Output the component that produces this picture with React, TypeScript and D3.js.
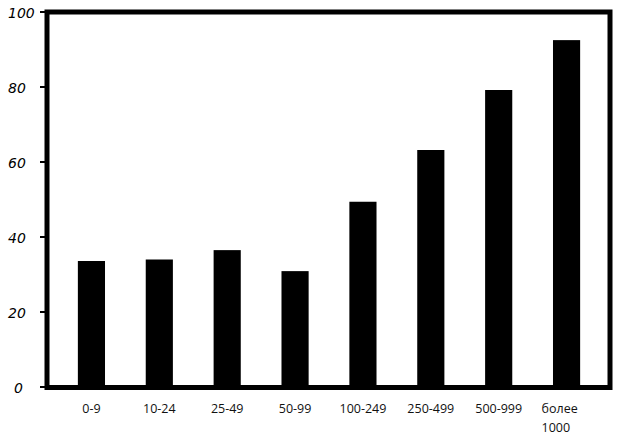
import React from "react";
import * as d3 from "d3";

const categories = ["0-9", "10-24", "25-49", "50-99", "100-249", "250-499", "500-999", "более 1000"];
const values = [33.6, 34.0, 36.5, 30.9, 49.4, 63.2, 79.2, 92.5];
const yTicks = [0, 20, 40, 60, 80, 100];

const W = 621;
const H = 448;

export default function App() {
  const y = d3.scaleLinear().domain([0, 100]).range([387, 12]);
  const x = d3
    .scaleBand<string>()
    .domain(categories)
    .range([57.5, 600.5])
    .paddingInner(0.6)
    .paddingOuter(0.3);

  return (
    <svg
      width={W}
      height={H}
      style={{ position: "absolute", left: 0, top: 0, background: "#fff" }}
    >
      {/* bars */}
      {categories.map((c, i) => (
        <rect
          key={c}
          x={x(c)!}
          y={y(values[i])}
          width={x.bandwidth()}
          height={y(0) - y(values[i])}
          fill="#000"
        />
      ))}
      {/* frame */}
      <rect x={47} y={12} width={563} height={375.5} fill="none" stroke="#000" strokeWidth={5} />
      {/* y ticks */}
      {yTicks.map((t) => (
        <g key={t}>
          <line x1={40} x2={47} y1={y(t)} y2={y(t)} stroke="#000" strokeWidth={2} />
          <text
            x={String(t).length > 1 ? 8 : 18.5}
            y={y(t) + 6}
            textAnchor={String(t).length > 1 ? "start" : "middle"}
            fontFamily="DejaVu Sans"
            fontStyle="italic"
            fontSize={14}
            fill="#000"
          >
            {t}
          </text>
        </g>
      ))}
      {/* x labels */}
      {categories.map((c) => {
        const cx = x(c)! + x.bandwidth() / 2;
        const parts = c.split(" ");
        if (parts.length > 1) {
          return (
            <text
              key={c}
              x={cx - 25}
              y={413}
              textAnchor="start"
              fontFamily="Open Sans"
              fontSize={12.5}
              fill="#111"
            >
              {parts.map((p, j) => (
                <tspan key={j} x={cx - 25} dy={j === 0 ? 0 : 19}>
                  {p}
                </tspan>
              ))}
            </text>
          );
        }
        return (
          <text
            key={c}
            x={cx}
            y={413}
            textAnchor="middle"
            fontFamily="Open Sans"
            fontSize={12.5}
            fill="#111"
          >
            {c}
          </text>
        );
      })}
    </svg>
  );
}
